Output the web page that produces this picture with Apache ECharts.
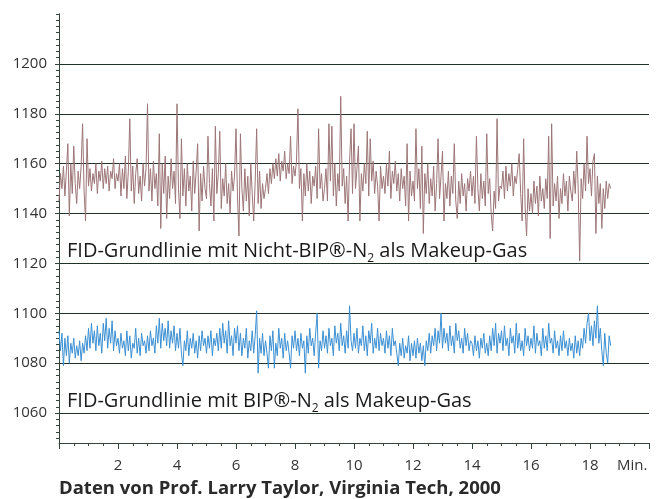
<!DOCTYPE html>
<html>
<head>
<meta charset="utf-8">
<script src="https://cdn.jsdelivr.net/npm/echarts@6/dist/echarts.min.js"></script>
<style>
  html, body { margin: 0; padding: 0; background: #fff; }
  #chart { width: 656px; height: 499px; }
</style>
</head>
<body>
<div id="chart"></div>
<script>
// sample spacing of both baselines, minutes
const timeStep = 0.05

// FID baseline, non-BIP N2 makeup gas (one row per minute)
const nichtBipValues = [
  1145, 1156, 1150, 1159, 1147, 1157, 1168, 1139, 1160, 1148, 1167, 1152, 1144, 1157, 1150, 1159, 1176, 1149, 1137, 1170,
  1151, 1158, 1149, 1156, 1152, 1160, 1148, 1157, 1153, 1161, 1150, 1158, 1152, 1159, 1149, 1157, 1154, 1162, 1150, 1156,
  1153, 1160, 1147, 1158, 1150, 1163, 1146, 1157, 1178, 1149, 1159, 1144, 1156, 1162, 1148, 1155, 1145, 1160, 1151, 1158,
  1184, 1149, 1158, 1145, 1161, 1150, 1156, 1143, 1172, 1134, 1160, 1148, 1163, 1138, 1155, 1146, 1162, 1150, 1157, 1144,
  1184, 1150, 1138, 1170, 1147, 1158, 1143, 1160, 1149, 1155, 1141, 1161, 1148, 1157, 1168, 1133, 1156, 1145, 1159, 1150,
  1146, 1171, 1152, 1143, 1158, 1137, 1175, 1148, 1156, 1173, 1142, 1154, 1147, 1160, 1144, 1152, 1140, 1157, 1149, 1155,
  1174, 1147, 1131, 1172, 1150, 1141, 1158, 1145, 1155, 1139, 1160, 1148, 1137, 1153, 1174, 1144, 1157, 1142, 1152, 1146,
  1150, 1156, 1148, 1158, 1152, 1160, 1154, 1162, 1155, 1164, 1153, 1161, 1157, 1165, 1154, 1160, 1156, 1171, 1152, 1159,
  1155, 1161, 1182, 1150, 1158, 1137, 1156, 1147, 1160, 1149, 1157, 1144, 1155, 1151, 1159, 1146, 1174, 1150, 1156, 1145,
  1150, 1158, 1145, 1176, 1153, 1175, 1147, 1160, 1143, 1156, 1149, 1187, 1151, 1158, 1144, 1155, 1137, 1161, 1174, 1148,
  1176, 1150, 1158, 1167, 1137, 1156, 1149, 1160, 1152, 1173, 1147, 1170, 1153, 1161, 1148, 1157, 1151, 1137, 1159, 1150,
  1155, 1148, 1160, 1151, 1165, 1146, 1157, 1152, 1161, 1149, 1156, 1145, 1158, 1150, 1155, 1143, 1168, 1137, 1157, 1147,
  1153, 1145, 1174, 1150, 1158, 1142, 1167, 1132, 1156, 1148, 1160, 1144, 1154, 1147, 1159, 1141, 1152, 1170, 1146, 1155,
  1165, 1137, 1152, 1146, 1157, 1143, 1155, 1148, 1168, 1145, 1138, 1153, 1144, 1156, 1147, 1152, 1141, 1154, 1149, 1157,
  1147, 1155, 1144, 1171, 1150, 1141, 1156, 1146, 1153, 1143, 1172, 1148, 1154, 1140, 1133, 1149, 1142, 1178, 1145, 1151,
  1150, 1157, 1146, 1159, 1149, 1156, 1151, 1160, 1147, 1155, 1152, 1158, 1164, 1148, 1137, 1170, 1143, 1131, 1150, 1141,
  1148, 1140, 1153, 1144, 1151, 1139, 1155, 1145, 1150, 1142, 1154, 1146, 1171, 1130, 1176, 1143, 1152, 1145, 1155, 1138,
  1150, 1144, 1156, 1147, 1153, 1141, 1155, 1149, 1145, 1157, 1148, 1165, 1150, 1121, 1154, 1146, 1160, 1149, 1171, 1152,
  1158, 1147, 1161, 1164, 1132, 1155, 1144, 1152, 1134, 1150, 1142, 1153, 1146, 1152, 1150
]

// FID baseline, BIP N2 makeup gas
const bipValues = [
  1093, 1085, 1092, 1079, 1090, 1083, 1091, 1080, 1088, 1084, 1090, 1082, 1087, 1083, 1089, 1081, 1088, 1084, 1091, 1085,
  1094, 1086, 1096, 1088, 1093, 1085, 1095, 1087, 1092, 1084, 1096, 1089, 1098, 1086, 1094, 1088, 1097, 1085, 1093, 1087,
  1090, 1084, 1092, 1086, 1089, 1083, 1093, 1085, 1091, 1082, 1088, 1086, 1094, 1084, 1090, 1083, 1092, 1087, 1089, 1084,
  1091, 1085, 1093, 1087, 1090, 1084, 1095, 1088, 1098, 1086, 1096, 1089, 1094, 1087, 1097, 1086, 1093, 1088, 1095, 1085,
  1092, 1086, 1094, 1084, 1079, 1089, 1085, 1093, 1083, 1090, 1086, 1092, 1084, 1089, 1082, 1091, 1085, 1093, 1087, 1090,
  1084, 1091, 1086, 1093, 1083, 1090, 1087, 1092, 1085, 1094, 1086, 1096, 1088, 1093, 1084, 1097, 1087, 1091, 1083, 1094,
  1088, 1095, 1085, 1092, 1083, 1090, 1086, 1094, 1082, 1089, 1085, 1093, 1084, 1091, 1101, 1076, 1090, 1084, 1092, 1083,
  1089, 1084, 1078, 1091, 1085, 1093, 1078, 1088, 1083, 1094, 1086, 1090, 1082, 1092, 1085, 1089, 1084, 1078, 1091, 1086,
  1093, 1085, 1090, 1083, 1092, 1086, 1089, 1076, 1091, 1084, 1094, 1087, 1090, 1083, 1092, 1100, 1078, 1089, 1085, 1093,
  1086, 1091, 1084, 1094, 1087, 1090, 1083, 1095, 1088, 1092, 1085, 1096, 1087, 1091, 1084, 1093, 1086, 1103, 1089, 1085,
  1092, 1086, 1094, 1084, 1090, 1087, 1095, 1085, 1091, 1083, 1093, 1088, 1096, 1084, 1090, 1086, 1094, 1085, 1092, 1087,
  1090, 1084, 1093, 1086, 1091, 1083, 1094, 1087, 1089, 1084, 1079, 1088, 1083, 1090, 1082, 1087, 1084, 1091, 1081, 1088,
  1083, 1089, 1082, 1090, 1084, 1088, 1081, 1087, 1079, 1089, 1085, 1092, 1084, 1091, 1087, 1094, 1085, 1093, 1088, 1100,
  1086, 1094, 1088, 1092, 1085, 1095, 1087, 1091, 1084, 1096, 1089, 1093, 1086, 1090, 1084, 1094, 1087, 1092, 1085, 1089,
  1088, 1083, 1091, 1085, 1089, 1082, 1090, 1086, 1092, 1084, 1088, 1083, 1091, 1085, 1094, 1087, 1096, 1084, 1092, 1088,
  1093, 1085, 1095, 1087, 1090, 1083, 1094, 1088, 1091, 1084, 1096, 1086, 1092, 1085, 1089, 1083, 1094, 1087, 1091, 1085,
  1090, 1086, 1095, 1084, 1092, 1087, 1089, 1083, 1094, 1086, 1091, 1085, 1096, 1088, 1090, 1084, 1093, 1086, 1089, 1083,
  1091, 1085, 1093, 1086, 1089, 1083, 1090, 1085, 1088, 1082, 1091, 1084, 1089, 1083, 1090, 1086, 1094, 1088, 1096, 1100,
  1089, 1095, 1087, 1097, 1090, 1103, 1088, 1094, 1085, 1079, 1092, 1084, 1080, 1091, 1087
]

const yTickValues = [1060, 1080, 1100, 1120, 1140, 1160, 1180, 1200]
const xTickLabels = [2, 4, 6, 8, 10, 12, 14, 16, 18]

const labelNichtBip = ['FID-Grundlinie mit Nicht-BIP®-N', '2', ' als Makeup-Gas']
const labelBip = ['FID-Grundlinie mit BIP®-N', '2', ' als Makeup-Gas']
const caption = 'Daten von Prof. Larry Taylor, Virginia Tech, 2000'

const gridColor = '#1f3427'
const axisColor = '#33453a'
const font = '"Open Sans", sans-serif'

const toPairs = vals => vals.map((v, i) => [+(i * timeStep).toFixed(2), v])

// minor ticks on the y axis every 2.5 units
const yMinor = []
for (let v = 1050; v <= 1220; v += 2.5) yMinor.push(v)

function subLabel(parts, x, y) {
  return {
    type: 'text',
    left: x,
    top: y,
    style: {
      text: '{a|' + parts[0] + '}{s|' + parts[1] + '}{a|' + parts[2] + '}',
      rich: {
        a: { fontFamily: font, fontSize: 20, fill: '#1a1a1a', lineHeight: 27 },
        s: { fontFamily: font, fontSize: 12, fill: '#1a1a1a', lineHeight: 12, verticalAlign: 'bottom' }
      }
    }
  }
}

const chart = echarts.init(document.getElementById('chart'))

chart.setOption({
  animation: false,
  grid: { left: 59, right: 7, top: 14, bottom: 56 },
  xAxis: {
    type: 'value',
    min: 0,
    max: 20,
    interval: 2,
    axisLine: { lineStyle: { color: axisColor, width: 1 } },
    axisTick: { length: 6, lineStyle: { color: axisColor } },
    minorTick: { show: true, splitNumber: 4, length: 3, lineStyle: { color: axisColor } },
    splitLine: { show: false },
    axisLabel: {
      customValues: xTickLabels,
      margin: 15,
      fontFamily: font,
      fontSize: 15,
      color: '#333'
    }
  },
  yAxis: [
    {
      type: 'value',
      min: 1048,
      max: 1220,
      axisLine: { show: true, lineStyle: { color: axisColor, width: 1 } },
      axisTick: { show: true, customValues: yTickValues, length: 4, lineStyle: { color: axisColor } },
      axisLabel: {
        customValues: yTickValues,
        formatter: v => String(v),
        margin: 12,
        fontFamily: font,
        fontSize: 15,
        color: '#333'
      },
      splitLine: { show: true, lineStyle: { color: gridColor, width: 1 } }
    },
    {
      type: 'value',
      position: 'left',
      min: 1048,
      max: 1220,
      axisLine: { show: true, lineStyle: { color: axisColor, width: 1 } },
      axisTick: { show: true, customValues: yMinor, length: 3, lineStyle: { color: axisColor } },
      axisLabel: { show: true, customValues: yMinor, formatter: () => '' },
      splitLine: { show: false }
    }
  ],
  series: [
    {
      name: 'Nicht-BIP',
      type: 'line',
      data: toPairs(nichtBipValues),
      showSymbol: false,
      lineStyle: { color: '#9c7577', width: 1 },
      z: 3
    },
    {
      name: 'BIP',
      type: 'line',
      data: toPairs(bipValues),
      showSymbol: false,
      lineStyle: { color: '#3b8fd2', width: 1 },
      z: 3
    }
  ],
  graphic: [
    subLabel(labelNichtBip, 67, 241),
    subLabel(labelBip, 67, 391),
    {
      type: 'text',
      left: 617,
      top: 458,
      style: { text: 'Min.', fontFamily: font, fontSize: 15, fill: '#333' }
    },
    {
      type: 'text',
      left: 59,
      top: 479,
      style: { text: caption, fontFamily: font, fontSize: 18.5, fontWeight: 'bold', fill: '#2a2a2a' }
    }
  ]
})
</script>
</body>
</html>
